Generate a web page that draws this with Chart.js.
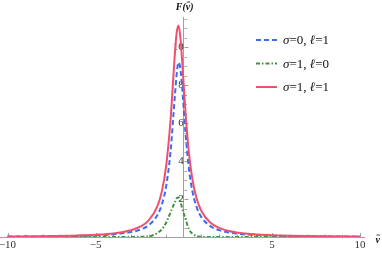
<!DOCTYPE html>
<html>
<head>
<meta charset="utf-8">
<script src="https://cdn.jsdelivr.net/npm/chart.js@4.4.0/dist/chart.umd.min.js"></script>
<style>
  html, body { margin: 0; padding: 0; background: #fff; }
  #wrap { width: 382px; height: 253px; }
</style>
</head>
<body>
<div id="wrap"><canvas id="fChart" width="382" height="253"></canvas></div>
<script>
// values
const vBar = [-10, -8, -6, -5, -4, -3, -2.5, -2, -1.5, -1.25, -1, -0.75, -0.5, -0.4, -0.3, -0.2, -0.1, 0.1, 0.3, 0.5, 0.75, 1, 1.5, 2, 2.5, 3, 4, 5, 6, 8, 10];
const sigma0l1 = [0.02, 0.033, 0.06, 0.087, 0.14, 0.26, 0.38, 0.61, 1.15, 1.69, 2.67, 4.5, 7.48, 8.61, 9.2, 8.93, 8.0, 5.47, 3.55, 2.37, 1.53, 1.05, 0.58, 0.36, 0.25, 0.18, 0.105, 0.07, 0.05, 0.028, 0.018];
const sigma1l0 = [0, 0, 0, 0, 0, 0.005, 0.01, 0.03, 0.21, 0.4, 0.75, 1.3, 1.85, 2.05, 2.08, 1.9, 1.55, 0.95, 0.4, 0.17, 0.04, 0.015, 0, 0, 0, 0, 0, 0, 0, 0, 0];
const sigma1l1 = [0.028, 0.045, 0.082, 0.12, 0.19, 0.36, 0.53, 0.86, 1.62, 2.38, 3.74, 6.16, 9.7, 10.78, 11.15, 10.6, 9.4, 6.56, 4.37, 2.99, 1.96, 1.37, 0.76, 0.48, 0.33, 0.24, 0.14, 0.094, 0.067, 0.039, 0.025];
const seriesNames = ["σ=0, ℓ=1", "σ=1, ℓ=0", "σ=1, ℓ=1"];
const xTickLabels = [-10, -5, 5, 10];
const yTickLabels = [2, 4, 6, 8, 10];

const serif = '"Liberation Serif", "DejaVu Serif", serif';

function toPoints(ys) {
  return vBar.map((x, i) => ({ x: x, y: ys[i] }));
}

// tick marks, legend and axis titles
const decor = {
  id: "decor",
  beforeDatasetsDraw(chart) {
    const { ctx } = chart;
    const x = chart.scales.x, y = chart.scales.y;
    const x0 = Math.round(x.getPixelForValue(0)) + 0.5;
    const y0 = y.getPixelForValue(0);
    ctx.save();
    ctx.strokeStyle = "#a0a0a0";
    ctx.lineWidth = 1;
    ctx.beginPath();
    for (let v = -10; v <= 10; v++) {
      if (v === 0) continue;
      const px = Math.round(x.getPixelForValue(v)) + 0.5;
      const len = v % 5 === 0 ? 4 : 2.5;
      ctx.moveTo(px, y0);
      ctx.lineTo(px, y0 - len);
    }
    for (let k = 1; k <= 23; k++) {
      const v = k / 2;
      const py = Math.round(y.getPixelForValue(v)) + 0.5;
      const len = v % 2 === 0 ? 4 : 2.5;
      ctx.moveTo(x0, py);
      ctx.lineTo(x0 + len, py);
    }
    ctx.stroke();
    ctx.restore();
  },
  afterDraw(chart) {
    const { ctx } = chart;
    const x = chart.scales.x;
    ctx.save();

    // legend
    const rows = [40, 63.5, 87];
    chart.data.datasets.forEach((ds, i) => {
      const ry = rows[i];
      ctx.strokeStyle = ds.borderColor;
      ctx.lineWidth = ds.borderWidth;
      ctx.setLineDash(ds.borderDash || []);
      ctx.beginPath();
      ctx.moveTo(256, ry);
      ctx.lineTo(277, ry);
      ctx.stroke();
      ctx.setLineDash([]);
      ctx.fillStyle = "#111";
      ctx.textBaseline = "middle";
      let tx = 283;
      for (const ch of seriesNames[i]) {
        const it = ch === "σ" || ch === "ℓ";
        ctx.font = (it ? "italic " : "") + "13px " + serif;
        ctx.fillText(ch, tx, ry + 1);
        tx += ctx.measureText(ch).width;
      }
    });

    // y title F(v̄)
    ctx.fillStyle = "#111";
    ctx.strokeStyle = "#111";
    ctx.lineWidth = 0.8;
    ctx.textBaseline = "alphabetic";
    ctx.font = "italic bold 10px " + serif;
    const parts = ["F(", "v", ")"];
    const widths = parts.map(p => ctx.measureText(p).width);
    let tx = x.getPixelForValue(0) + 1 - (widths[0] + widths[1] + widths[2]) / 2;
    const base = 9.5;
    parts.forEach((p, i) => {
      ctx.fillText(p, tx, base);
      if (p === "v") {
        ctx.beginPath();
        ctx.moveTo(tx + 1, base - 7.5);
        ctx.lineTo(tx + widths[i], base - 7.5);
        ctx.stroke();
      }
      tx += widths[i];
    });

    // x title v̄
    ctx.font = "italic bold 10px " + serif;
    const vx = 375.5;
    ctx.fillText("v", vx, 242.5);
    ctx.beginPath();
    ctx.moveTo(vx + 1, 235);
    ctx.lineTo(vx + ctx.measureText("v").width, 235);
    ctx.stroke();

    ctx.restore();
  }
};

const ctx = document.getElementById("fChart").getContext("2d");

window.fChart = new Chart(ctx, {
  type: "line",
  data: {
    datasets: [
      {
        label: seriesNames[0],
        data: toPoints(sigma0l1),
        borderColor: "#3b6cf0",
        borderWidth: 2,
        borderDash: [5, 3],
        order: 2
      },
      {
        label: seriesNames[1],
        data: toPoints(sigma1l0),
        borderColor: "#3f923f",
        borderWidth: 2,
        borderDash: [4, 2, 1.5, 2],
        order: 1
      },
      {
        label: seriesNames[2],
        data: toPoints(sigma1l1),
        borderColor: "#f0506e",
        borderWidth: 2,
        order: 0
      }
    ]
  },
  options: {
    responsive: false,
    devicePixelRatio: 1,
    animation: false,
    layout: { padding: { top: 17.7, right: 18, bottom: 0, left: 0 } },
    elements: {
      point: { radius: 0 },
      line: { cubicInterpolationMode: "monotone", fill: false }
    },
    plugins: {
      legend: { display: false },
      tooltip: { enabled: false }
    },
    scales: {
      x: {
        type: "linear",
        position: "bottom",
        min: -10.426,
        max: 10.227,
        grid: { display: true, drawOnChartArea: false, drawTicks: false },
        border: { color: "#a0a0a0", width: 1 },
        ticks: {
          color: "#333",
          font: { family: serif, size: 11 },
          padding: 2,
          maxRotation: 0,
          callback: v => (v < 0 ? "\u2212" + Math.abs(v) : String(v))
        },
        afterBuildTicks: s => { s.ticks = xTickLabels.map(v => ({ value: v })); },
        afterFit: s => { s.height = 16; s.paddingLeft = 0; s.paddingRight = 0; }
      },
      y: {
        type: "linear",
        position: { x: 0 },
        min: 0,
        max: 11.56,
        grid: { display: true, drawOnChartArea: false, drawTicks: false },
        border: { color: "#a0a0a0", width: 1 },
        ticks: {
          color: "#333",
          font: { family: serif, size: 11 },
          padding: 4
        },
        afterBuildTicks: s => { s.ticks = yTickLabels.map(v => ({ value: v })); }
      }
    }
  },
  plugins: [decor]
});
</script>
</body>
</html>
